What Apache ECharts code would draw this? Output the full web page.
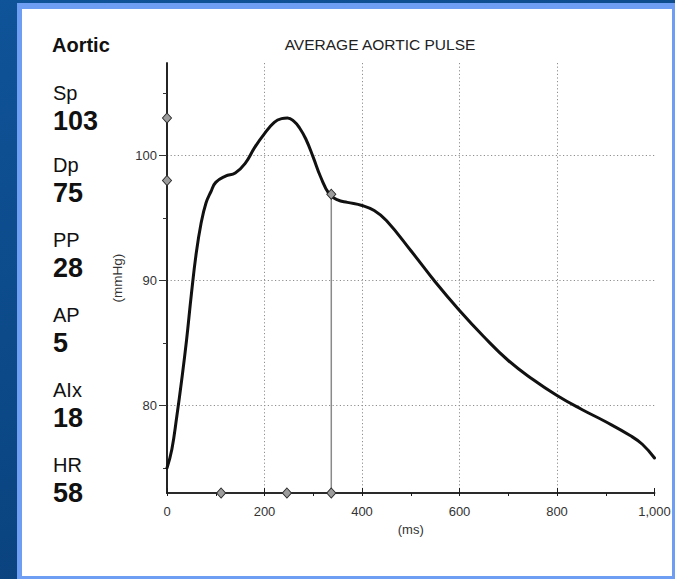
<!DOCTYPE html>
<html>
<head>
<meta charset="utf-8">
<script src="https://cdn.jsdelivr.net/npm/echarts@6/dist/echarts.min.js"></script>
<style>
  html, body { margin: 0; padding: 0; }
  body {
    width: 675px; height: 579px; overflow: hidden; position: relative;
    background: linear-gradient(160deg, #0f5398 0%, #0b4785 55%, #093c73 100%);
  }
  #frame { position: absolute; left: 17px; top: 3px; width: 658px; height: 576px; background: #6d9ef4; }
  #panel { position: absolute; left: 22px; top: 9px; width: 650px; height: 567px; background: #ffffff; }
  #chart { position: absolute; left: 0; top: 0; width: 675px; height: 579px; }
</style>
</head>
<body>
<div id="frame"></div>
<div id="panel"></div>
<div id="chart"></div>
<script>
// Averaged central (aortic) pressure waveform over one beat
const timeMs = [0, 10, 20, 30, 40, 50, 60, 70, 80, 90,
                100, 120, 140, 160, 180, 200, 220, 235, 247, 260,
                272, 285, 300, 315, 333, 350, 370, 400, 425, 450,
                500, 550, 600, 650, 700, 750, 800, 850, 900, 950,
                975, 1000];
const pressure = [75.0, 76.5, 79.1, 82.0, 85.2, 88.9, 92.2, 94.6, 96.2, 97.1,
                  97.85, 98.35, 98.6, 99.35, 100.65, 101.75, 102.65, 102.95, 103.0, 102.75,
                  102.2, 101.3, 99.85, 98.3, 96.9, 96.45, 96.25, 96.0, 95.6, 94.8,
                  92.4, 89.9, 87.6, 85.5, 83.6, 82.1, 80.8, 79.7, 78.7, 77.6,
                  76.9, 75.8];

// Pressure markers on the vertical axis: systolic peak and first shoulder (P1)
const pressureMarks = [103, 98];
// Timing markers on the time axis: T1, time of peak, ejection duration
const timeMarks = [111, 246, 337];
// End of ejection (incisura) on the waveform
const notchTime = 337;
const notchPressure = 96.9;

// Summary parameters listed down the left side
const statNames = ['Sp', 'Dp', 'PP', 'AP', 'AIx', 'HR'];
const statValues = ['103', '75', '28', '5', '18', '58'];

// Axis ticks
const yMajorTicks = [80, 90, 100];
const yMinorTicks = [75, 85, 95, 105];
const yRange = [73, 107.4];
const xRange = [0, 1000];

const FONT = '"Liberation Sans", Arial, Helvetica, sans-serif';

const curve = timeMs.map((t, i) => [t, pressure[i]]);
const markers = pressureMarks.map(p => [0, p])
  .concat(timeMarks.map(t => [t, yRange[0]]))
  .concat([[notchTime, notchPressure]]);

// Left-hand parameter block
const labelRows = [92.5, 164.5, 239.5, 314.5, 389.5, 464.5];
const statText = [];
statText.push({
  type: 'text', x: 52, y: 44.5,
  style: { text: 'Aortic', font: 'bold 20px ' + FONT, fill: '#111',
           align: 'left', verticalAlign: 'middle', textAlign: 'left', textVerticalAlign: 'middle' }
});
statNames.forEach((name, i) => {
  statText.push({
    type: 'text', x: 53, y: labelRows[i],
    style: { text: name, font: '20px ' + FONT, fill: '#111',
             align: 'left', verticalAlign: 'middle', textAlign: 'left', textVerticalAlign: 'middle' }
  });
  statText.push({
    type: 'text', x: 53, y: labelRows[i] + 28.5,
    style: { text: statValues[i], font: 'bold 27px ' + FONT, fill: '#111',
             align: 'left', verticalAlign: 'middle', textAlign: 'left', textVerticalAlign: 'middle' }
  });
});
statText.push({
  type: 'text', x: 380, y: 44.5,
  style: { text: 'AVERAGE AORTIC PULSE', font: '15.5px ' + FONT, fill: '#222',
           align: 'center', verticalAlign: 'middle', textAlign: 'center', textVerticalAlign: 'middle' }
});

const axisInk = '#1c1c1c';
const gridDots = { type: [1.2, 2.4], color: '#8e8e8e', width: 1 };

const chart = echarts.init(document.getElementById('chart'), null, { renderer: 'svg' });
chart.setOption({
  animation: false,
  backgroundColor: 'transparent',
  textStyle: { fontFamily: FONT },
  graphic: statText,
  grid: { left: 167, top: 63, width: 487.5, height: 430, containLabel: false },
  xAxis: [
    {
      type: 'value', min: xRange[0], max: xRange[1], interval: 200, position: 'bottom',
      axisLine: { show: true, onZero: false, lineStyle: { color: axisInk, width: 1.6 } },
      axisTick: { show: true, inside: true, length: 5, lineStyle: { color: axisInk, width: 1 } },
      axisLabel: { fontSize: 13, color: '#333', margin: 12,
                   formatter: v => v.toLocaleString('en-US') },
      splitLine: { show: true, showMinLine: false, showMaxLine: false, lineStyle: gridDots },
      name: '(ms)', nameLocation: 'middle', nameGap: 27,
      nameTextStyle: { fontSize: 13, color: '#333' }
    },
    {
      type: 'value', min: xRange[0], max: xRange[1], interval: 100, position: 'bottom',
      axisLine: { show: true, onZero: false, lineStyle: { color: axisInk, width: 1.6 } },
      axisTick: { show: true, length: 3, lineStyle: { color: axisInk, width: 1 } },
      axisLabel: { show: false },
      splitLine: { show: false }
    }
  ],
  yAxis: [
    {
      type: 'value', min: yRange[0], max: yRange[1], position: 'left',
      axisLine: { show: true, onZero: false, lineStyle: { color: axisInk, width: 1.6 } },
      axisTick: { show: true, customValues: yMajorTicks, length: 8, lineStyle: { color: '#333', width: 1 } },
      axisLabel: { customValues: yMajorTicks, fontSize: 13, color: '#333', margin: 10 },
      splitLine: { show: true, lineStyle: gridDots },
      name: '(mmHg)', nameLocation: 'middle', nameGap: 41,
      nameTextStyle: { fontSize: 13.5, color: '#333' }
    },
    {
      type: 'value', min: yRange[0], max: yRange[1], position: 'left',
      axisLine: { show: true, onZero: false, lineStyle: { color: axisInk, width: 1.6 } },
      axisTick: { show: true, customValues: yMinorTicks, length: 4, lineStyle: { color: '#333', width: 1 } },
      axisLabel: { show: false },
      splitLine: { show: false }
    }
  ],
  series: [
    {
      name: 'ejection', type: 'line', xAxisIndex: 0, yAxisIndex: 0,
      data: [[notchTime, yRange[0]], [notchTime, notchPressure]],
      symbol: 'none', lineStyle: { color: '#8a8a8a', width: 1.5 }, z: 2, silent: true
    },
    {
      name: 'aortic pressure', type: 'line', xAxisIndex: 0, yAxisIndex: 0,
      data: curve, smooth: 0.45, symbol: 'none',
      lineStyle: { color: '#111', width: 3, cap: 'round', join: 'round' }, z: 3, silent: true
    },
    {
      name: 'markers', type: 'scatter', xAxisIndex: 0, yAxisIndex: 0,
      data: markers, symbol: 'diamond', symbolSize: [9, 10], clip: false,
      itemStyle: { color: '#9c9c9c', borderColor: '#2a2a2a', borderWidth: 1, opacity: 1 },
      z: 4, silent: true
    }
  ]
});
</script>
</body>
</html>
